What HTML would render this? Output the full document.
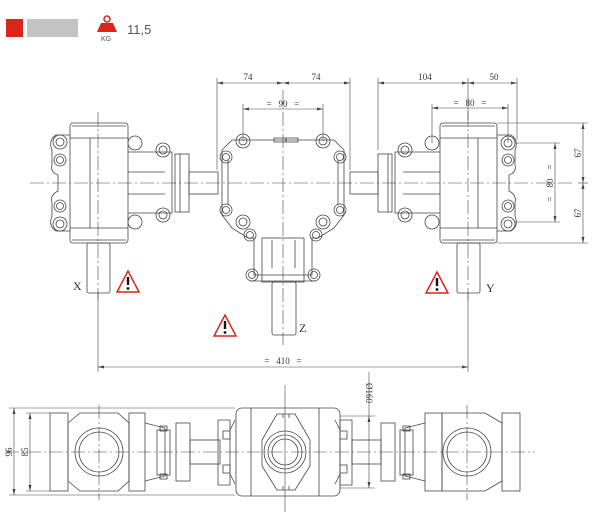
<!DOCTYPE html>
<html><head><meta charset="utf-8"><style>
html,body{margin:0;padding:0;background:#fff;}
svg{display:block;}
text{font-family:"Liberation Serif",serif;fill:#333;}
</style></head><body>
<svg width="600" height="525" viewBox="0 0 600 525" xmlns="http://www.w3.org/2000/svg">
<!-- header -->
<rect x="6" y="19" width="17" height="18" fill="#d9261c"/>
<rect x="27" y="19" width="51" height="18" fill="#c3c3c3"/>
<circle cx="107" cy="19" r="3" fill="none" stroke="#d9261c" stroke-width="1.5"/>
<polygon points="101,23 113,23 117,32 97,32" fill="#d9261c"/>
<text x="106" y="41" font-size="7" text-anchor="middle" style="font-family:'Liberation Sans',sans-serif;fill:#555">KG</text>
<text x="127" y="34" font-size="13" style="font-family:'Liberation Sans',sans-serif;fill:#555">11,5</text>

<g fill="none" stroke="#444" stroke-width="0.8">
<!-- centerlines -->
<g stroke-dasharray="14,3,2,3" stroke-width="0.6">
<line x1="30" y1="183" x2="575" y2="183"/>
<line x1="98" y1="112" x2="98" y2="300"/>
<line x1="283" y1="90" x2="283" y2="345"/>
<line x1="468" y1="112" x2="468" y2="300"/>
<line x1="5" y1="452" x2="535" y2="452"/>
<line x1="99" y1="405" x2="99" y2="500"/>
<line x1="467" y1="405" x2="467" y2="500"/>
</g>
<line x1="285" y1="385" x2="285" y2="512" stroke-width="0.6"/>

<!-- LEFT UNIT top -->
<rect x="70" y="123" width="58" height="120" rx="3"/>
<line x1="70" y1="138" x2="128" y2="138"/><line x1="70" y1="228" x2="128" y2="228"/>
<line x1="72" y1="126" x2="126" y2="126"/><line x1="72" y1="240" x2="126" y2="240"/>
<line x1="90" y1="138" x2="90" y2="228"/>
<rect x="87" y="243" width="23" height="50" rx="2"/>
<path d="M70,135 H56 Q48,140 52,150 V165 Q50,172 58,175 V191 Q50,195 52,202 V216 Q48,226 56,231 H70"/>
<circle cx="60" cy="142" r="7"/><circle cx="60" cy="142" r="4"/>
<circle cx="60" cy="160" r="6"/><circle cx="60" cy="160" r="3.5"/>
<circle cx="60" cy="206" r="6"/><circle cx="60" cy="206" r="3.5"/>
<circle cx="60" cy="224" r="7"/><circle cx="60" cy="224" r="4"/>
<circle cx="135" cy="143" r="7"/><circle cx="135" cy="222" r="7"/>
<path d="M128,152 H172 V213 H128"/>
<line x1="128" y1="172" x2="165" y2="172"/><line x1="128" y1="194" x2="165" y2="194"/>
<circle cx="163" cy="150" r="7"/><circle cx="163" cy="150" r="4"/>
<circle cx="163" cy="215" r="7"/><circle cx="163" cy="215" r="4"/>
<rect x="175" y="154" width="14" height="58"/>
<line x1="180" y1="154" x2="180" y2="212"/>
<rect x="189" y="172" width="29" height="22"/>

<!-- CENTER UNIT top -->
<path d="M222,150 L232,140 H334 L344,150 V215 L334,228 L318,238 L312,238 V275 H254 V238 L248,238 L232,228 L222,215 Z"/>
<path d="M228,160 V205 M338,160 V205"/>
<rect x="262" y="238" width="42" height="44"/>
<line x1="272" y1="240" x2="272" y2="268"/><line x1="295" y1="240" x2="295" y2="268"/>
<line x1="250" y1="281" x2="316" y2="281"/>
<rect x="272" y="282" width="24" height="53" rx="2"/>
<g>
<circle cx="243" cy="141" r="7"/><circle cx="243" cy="141" r="4"/>
<circle cx="323" cy="141" r="7"/><circle cx="323" cy="141" r="4"/>
<circle cx="226" cy="157" r="6"/><circle cx="226" cy="157" r="3.5"/>
<circle cx="340" cy="157" r="6"/><circle cx="340" cy="157" r="3.5"/>
<circle cx="226" cy="210" r="6"/><circle cx="226" cy="210" r="3.5"/>
<circle cx="340" cy="210" r="6"/><circle cx="340" cy="210" r="3.5"/>
<circle cx="243" cy="222" r="7"/><circle cx="243" cy="222" r="4"/>
<circle cx="323" cy="222" r="7"/><circle cx="323" cy="222" r="4"/>
<circle cx="250" cy="235" r="6"/><circle cx="250" cy="235" r="3.5"/>
<circle cx="316" cy="235" r="6"/><circle cx="316" cy="235" r="3.5"/>
<circle cx="252" cy="275" r="6"/><circle cx="252" cy="275" r="3.5"/>
<circle cx="314" cy="275" r="6"/><circle cx="314" cy="275" r="3.5"/>
</g>
<rect x="274" y="138" width="12" height="4"/><rect x="286" y="138" width="12" height="4"/>

<!-- RIGHT UNIT top -->
<rect x="440" y="123" width="57" height="120" rx="3"/>
<line x1="440" y1="138" x2="497" y2="138"/><line x1="440" y1="228" x2="497" y2="228"/>
<line x1="442" y1="126" x2="495" y2="126"/><line x1="442" y1="240" x2="495" y2="240"/>
<line x1="478" y1="138" x2="478" y2="228"/>
<rect x="457" y="243" width="23" height="50" rx="2"/>
<path d="M497,135 H511 Q519,140 515,150 V165 Q517,172 509,175 V191 Q517,195 515,202 V216 Q519,226 511,231 H497"/>
<circle cx="508" cy="143" r="7"/><circle cx="508" cy="143" r="4"/>
<circle cx="508" cy="160" r="6"/><circle cx="508" cy="160" r="3.5"/>
<circle cx="508" cy="206" r="6"/><circle cx="508" cy="206" r="3.5"/>
<circle cx="508" cy="224" r="7"/><circle cx="508" cy="224" r="4"/>
<circle cx="432" cy="143" r="7"/><circle cx="432" cy="222" r="7"/>
<path d="M440,152 H395 V213 H440"/>
<line x1="440" y1="172" x2="403" y2="172"/><line x1="440" y1="194" x2="403" y2="194"/>
<circle cx="405" cy="150" r="7"/><circle cx="405" cy="150" r="4"/>
<circle cx="405" cy="215" r="7"/><circle cx="405" cy="215" r="4"/>
<rect x="378" y="154" width="14" height="58"/>
<line x1="388" y1="154" x2="388" y2="212"/>
<rect x="350" y="172" width="28" height="22"/>

<!-- dimensions -->
<g stroke-width="0.6">
<line x1="217" y1="78" x2="217" y2="170"/><line x1="350" y1="78" x2="350" y2="170"/>
<line x1="217" y1="83" x2="350" y2="83"/>
<line x1="243" y1="104" x2="243" y2="141"/><line x1="323" y1="104" x2="323" y2="141"/>
<line x1="243" y1="109" x2="323" y2="109"/>
<line x1="378" y1="78" x2="378" y2="150"/><line x1="517" y1="78" x2="517" y2="140"/>
<line x1="378" y1="83" x2="517" y2="83"/><line x1="468" y1="78" x2="468" y2="120"/>
<line x1="432" y1="104" x2="432" y2="143"/><line x1="508" y1="104" x2="508" y2="143"/>
<line x1="432" y1="108" x2="508" y2="108"/>
<line x1="497" y1="123" x2="588" y2="123"/><line x1="497" y1="243" x2="588" y2="243"/>
<line x1="583" y1="123" x2="583" y2="243"/><line x1="578" y1="183" x2="588" y2="183"/>
<line x1="515" y1="143" x2="560" y2="143"/><line x1="515" y1="222" x2="560" y2="222"/>
<line x1="555" y1="143" x2="555" y2="222"/>
<line x1="98" y1="293" x2="98" y2="372"/><line x1="468" y1="293" x2="468" y2="372"/>
<line x1="98" y1="367" x2="468" y2="367"/>
<line x1="9" y1="408" x2="235" y2="408"/><line x1="9" y1="495" x2="235" y2="495"/>
<line x1="14" y1="408" x2="14" y2="495"/>
<line x1="26" y1="413" x2="50" y2="413"/><line x1="26" y1="491" x2="50" y2="491"/>
<line x1="30" y1="413" x2="30" y2="491"/>
<line x1="340" y1="416" x2="375" y2="416"/><line x1="340" y1="488" x2="375" y2="488"/>
<line x1="369" y1="372" x2="369" y2="488"/>
</g>
</g>
<!-- arrowheads -->
<g fill="#444">
<path d="M217,83 l6,-1.5 v3z M283,83 l-6,-1.5 v3z M283,83 l6,-1.5 v3z M350,83 l-6,-1.5 v3z"/>
<path d="M243,109 l6,-1.5 v3z M323,109 l-6,-1.5 v3z"/>
<path d="M378,83 l6,-1.5 v3z M468,83 l-6,-1.5 v3z M468,83 l6,-1.5 v3z M517,83 l-6,-1.5 v3z"/>
<path d="M432,108 l6,-1.5 v3z M508,108 l-6,-1.5 v3z"/>
<path d="M583,123 l-1.5,6 h3z M583,183 l-1.5,-6 h3z M583,183 l-1.5,6 h3z M583,243 l-1.5,-6 h3z"/>
<path d="M555,143 l-1.5,6 h3z M555,222 l-1.5,-6 h3z"/>
<path d="M98,367 l6,-1.5 v3z M468,367 l-6,-1.5 v3z"/>
<path d="M14,408 l-1.5,6 h3z M14,495 l-1.5,-6 h3z M30,413 l-1.5,6 h3z M30,491 l-1.5,-6 h3z"/>
<path d="M369,416 l-1.5,6 h3z M369,488 l-1.5,-6 h3z"/>
</g>
<g font-size="9">
<text x="248" y="80" text-anchor="middle">74</text>
<text x="316" y="80" text-anchor="middle">74</text>
<text x="283" y="107" text-anchor="middle">=&#160;&#160;&#160;90&#160;&#160;&#160;=</text>
<text x="425" y="80" text-anchor="middle">104</text>
<text x="494" y="80" text-anchor="middle">50</text>
<text x="470" y="106" text-anchor="middle">=&#160;&#160;&#160;80&#160;&#160;&#160;=</text>
<text transform="translate(581,153) rotate(-90)" text-anchor="middle">67</text>
<text transform="translate(581,213) rotate(-90)" text-anchor="middle">67</text>
<text transform="translate(553,183) rotate(-90)" text-anchor="middle">=&#160;&#160;&#160;&#160;80&#160;&#160;&#160;&#160;=</text>
<text x="283" y="364" text-anchor="middle">=&#160;&#160;&#160;410&#160;&#160;&#160;=</text>
<text transform="translate(12,452) rotate(-90)" text-anchor="middle">96</text>
<text transform="translate(28,452) rotate(-90)" text-anchor="middle">85</text>
<text transform="translate(366,393) rotate(90)" text-anchor="middle">Ø160</text>
</g>
<g font-size="12">
<text x="73" y="290">X</text>
<text x="486" y="292">Y</text>
<text x="299" y="332">Z</text>
</g>
<!-- warnings -->
<g>
<polygon points="128,271 139,292 117,292" fill="#fff" stroke="#d9261c" stroke-width="1.5"/>
<rect x="126.8" y="277" width="2.4" height="8" fill="#111"/><circle cx="128" cy="288.5" r="1.4" fill="#111"/>
<polygon points="225,315 236,336 214,336" fill="#fff" stroke="#d9261c" stroke-width="1.5"/>
<rect x="223.8" y="321" width="2.4" height="8" fill="#111"/><circle cx="225" cy="332.5" r="1.4" fill="#111"/>
<polygon points="437,272 448,293 426,293" fill="#fff" stroke="#d9261c" stroke-width="1.5"/>
<rect x="435.8" y="278" width="2.4" height="8" fill="#111"/><circle cx="437" cy="289.5" r="1.4" fill="#111"/>
</g>

<!-- BOTTOM VIEW -->
<g fill="none" stroke="#444" stroke-width="0.8">
<rect x="50" y="413" width="18" height="78"/>
<path d="M68,423 L80,413 H118 L129,423 V481 L118,491 H80 L68,481 Z"/>
<circle cx="99" cy="452" r="24"/><circle cx="99" cy="452" r="20"/>
<rect x="129" y="413" width="16" height="78"/>
<path d="M145,423 L165,428 V476 L145,481"/>
<rect x="157" y="430" width="13" height="45"/>
<rect x="160" y="426" width="7" height="5"/><rect x="160" y="474" width="7" height="5"/>
<rect x="176" y="423" width="14" height="58"/>
<rect x="190" y="440" width="30" height="24"/>
<path d="M218,420 H230 V485 H218 Z"/>
<path d="M230,430 L235,420 M230,474 L235,484"/>
<rect x="223" y="431" width="7" height="8"/><rect x="223" y="465" width="7" height="8"/>
<rect x="236" y="408" width="104" height="88" rx="6"/>
<line x1="251" y1="408" x2="251" y2="496"/><line x1="319" y1="408" x2="319" y2="496"/>
<path d="M277,414 H295 L310,440 V466 L295,490 H277 L262,466 V440 Z"/>
<path d="M283,414 v4 M289,414 v4 M283,490 v-4 M289,490 v-4"/>
<circle cx="285" cy="452" r="21"/><circle cx="285" cy="452" r="17"/><circle cx="285" cy="452" r="13"/>
<path d="M340,420 H352 V485 H340 Z"/>
<path d="M340,430 L335,420 M340,474 L335,484"/>
<rect x="340" y="431" width="7" height="8"/><rect x="340" y="465" width="7" height="8"/>
<rect x="352" y="440" width="29" height="24"/>
<rect x="381" y="423" width="14" height="58"/>
<rect x="400" y="430" width="13" height="45"/>
<rect x="403" y="426" width="7" height="5"/><rect x="403" y="474" width="7" height="5"/>
<path d="M425,423 L405,428 V476 L425,481"/>
<rect x="425" y="413" width="17" height="78"/>
<path d="M442,413 H485 L502,423 V481 L485,491 H442 Z"/>
<circle cx="467" cy="452" r="24"/><circle cx="467" cy="452" r="20"/>
<rect x="502" y="413" width="18" height="78"/>
</g>
</svg>
</body></html>
